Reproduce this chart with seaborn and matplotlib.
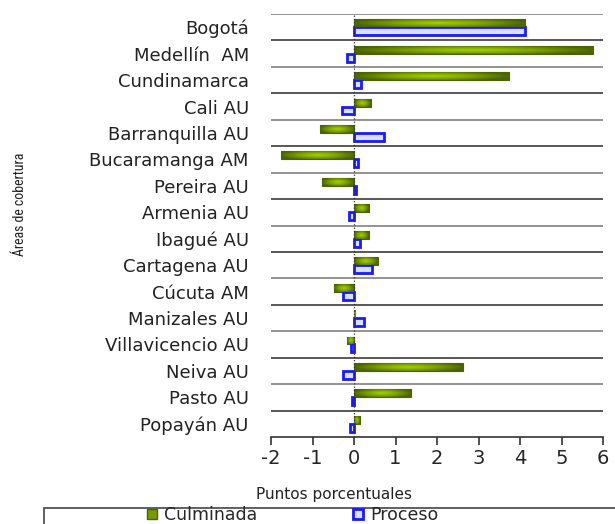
import numpy as np
import pandas as pd
import matplotlib
matplotlib.use("Agg")
import matplotlib.pyplot as plt
import seaborn as sns
from matplotlib.colors import LinearSegmentedColormap
from matplotlib.lines import Line2D
from matplotlib.patches import Rectangle

# Data (percentage points)
areas = [
    "Bogotá", "Medellín  AM", "Cundinamarca", "Cali AU", "Barranquilla AU",
    "Bucaramanga AM", "Pereira AU", "Armenia AU", "Ibagué AU", "Cartagena AU",
    "Cúcuta AM", "Manizales AU", "Villavicencio AU", "Neiva AU", "Pasto AU",
    "Popayán AU",
]
culminada = [4.12, 5.75, 3.73, 0.40, -0.82, -1.76, -0.76, 0.35, 0.35, 0.57,
             -0.48, 0.03, -0.17, 2.62, 1.37, 0.14]
proceso = [4.12, -0.18, 0.17, -0.30, 0.72, 0.10, 0.05, -0.12, 0.15, 0.43,
           -0.27, 0.25, -0.07, -0.27, -0.06, -0.10]
series = ["Culminada", "Proceso"]
x_ticks = [-2, -1, 0, 1, 2, 3, 4, 5, 6]

df = pd.DataFrame({
    "area": areas * 2,
    "serie": [series[0]] * len(areas) + [series[1]] * len(areas),
    "valor": culminada + proceso,
})

sns.set_style("white")
plt.rcParams["font.family"] = ["DejaVu Sans"]

fig = plt.figure(figsize=(6.15, 5.24), dpi=100)
ax = fig.add_axes([271 / 615, 1 - 437 / 524, 332 / 615, 423 / 524])

sns.barplot(data=df, y="area", x="valor", hue="serie", order=areas,
            hue_order=series, orient="h", width=0.6, gap=0,
            palette=["#7a9a00", "white"], legend=False, ax=ax)

green_cmap = LinearSegmentedColormap.from_list(
    "g", ["#4a6400", "#7fa300", "#a2d400"])
# soft glow: bright in the middle, dark olive towards the ends and edges
u = np.linspace(-1, 1, 80)
v = np.linspace(-1, 1, 24)
uu, vv = np.meshgrid(u, v)
glow = np.clip(1 - np.sqrt(uu ** 2 * 0.9 + vv ** 2 * 0.6), 0, 1)

# green bars: gradient fill clipped to the bar
for p in ax.containers[0]:
    p.set_edgecolor("#4a6400")
    p.set_linewidth(0.8)
    x0, y0 = p.get_x(), p.get_y()
    w, h = p.get_width(), p.get_height()
    im = ax.imshow(glow, cmap=green_cmap, aspect="auto", vmin=0, vmax=1,
                   extent=[x0, x0 + w, y0 + h, y0], zorder=p.get_zorder() + 0.1,
                   interpolation="bilinear")
    im.set_clip_path(p)

# blue outlined bars
for p in ax.containers[1]:
    p.set_facecolor("#d6e0ff")
    p.set_edgecolor("#1a1aff")
    p.set_linewidth(2.0)

ax.set_xlim(-2, 6)
ax.set_ylim(len(areas) - 0.5, -0.5)

# separators between categories
for i in range(len(areas)):
    ax.axhline(i - 0.5, color="#4a4a4a" if i % 2 else "#8a8a8a",
               lw=1.3, zorder=0.5)
ax.axvline(0, color="#333333", lw=0.9, ls=":", zorder=3)

for s in ["top", "right", "left"]:
    ax.spines[s].set_visible(False)
ax.spines["bottom"].set_color("#333333")
ax.spines["bottom"].set_linewidth(1.2)

ax.set_xticks(x_ticks)
ax.set_xticklabels([str(t) for t in x_ticks], fontsize=14)
ax.tick_params(axis="x", direction="out", length=6, width=1.2,
               color="#333333", bottom=True, pad=3)
ax.tick_params(axis="y", length=0, pad=16, labelsize=13)
for lab in ax.get_yticklabels():
    lab.set_color("#222222")
ax.set_xlabel("")
ax.set_ylabel("")

fig.text(20 / 615, 1 - 204 / 524, "Áreas de cobertura", rotation=90,
         ha="center", va="center", fontsize=10, color="#222222",
         family=["Roboto Condensed", "Liberation Sans Narrow", "Liberation Sans"])
fig.text(334 / 615, 1 - 494 / 524, "Puntos porcentuales", ha="center",
         va="center", fontsize=11, color="#222222")

# legend box runs off the bottom edge like in the original
fig.patches.append(Rectangle((44 / 615, -0.05), 0.98, 0.05 + 16 / 524,
                             transform=fig.transFigure, fill=False,
                             edgecolor="#444444", lw=1.2))
handles = [
    Line2D([], [], marker="s", ls="", markersize=7.5,
           markerfacecolor="#7a9a00", markeredgecolor="#4a6400"),
    Line2D([], [], marker="s", ls="", markersize=7.5,
           markerfacecolor="#d6e0ff", markeredgecolor="#1a1aff",
           markeredgewidth=2),
]
fig.legend(handles, series, loc="center", ncol=2, frameon=False,
           bbox_to_anchor=(292 / 615, 1 - 515 / 524), fontsize=12.5,
           handlelength=0.8, handletextpad=0.3, columnspacing=5.4,
           borderpad=0)

fig.savefig("out.png", dpi=100)
